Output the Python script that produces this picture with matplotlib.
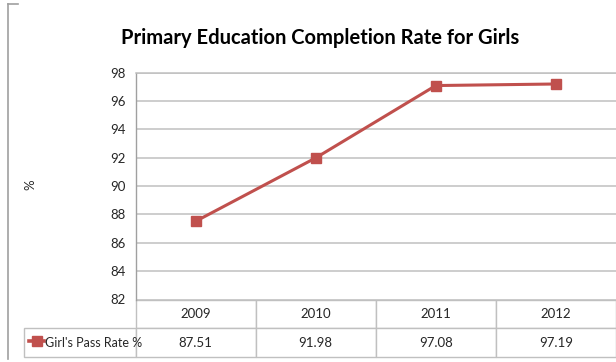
import matplotlib
matplotlib.use("Agg")
import matplotlib.pyplot as plt
from matplotlib.lines import Line2D
from matplotlib.table import Table

# chart data
years = ["2009", "2010", "2011", "2012"]
pass_rate = [87.51, 91.98, 97.08, 97.19]
series_name = "Girl's Pass Rate %"
y_ticks = [82, 84, 86, 88, 90, 92, 94, 96, 98]

plt.rcParams['font.family'] = ['Lato', 'DejaVu Sans']

RED = '#C0504D'
GRID = '#C0C0C0'
TEXT = '#262626'

fig = plt.figure(figsize=(6.16, 3.62), dpi=100)
W, H = 616, 362
ax = fig.add_axes([135.5 / W, 1 - 299.5 / H, 480.5 / W, 227 / H])

x = list(range(len(years)))
ax.plot(x, pass_rate, color=RED, lw=2.2, marker='s', markersize=6.5,
        markeredgecolor=RED, markerfacecolor=RED, zorder=3)

ax.set_xlim(-0.5, len(years) - 0.5)
ax.set_ylim(y_ticks[0], y_ticks[-1])
ax.set_yticks(y_ticks)
ax.set_yticklabels([str(t) for t in y_ticks], fontsize=9.5, color=TEXT)
ax.tick_params(axis='y', length=0, pad=7)
ax.set_xticks([])
ax.yaxis.grid(True, color=GRID, lw=1.1)
ax.set_axisbelow(True)

for side in ['right', 'bottom']:
    ax.spines[side].set_visible(False)
ax.spines['top'].set_color(GRID)
ax.spines['top'].set_linewidth(1.1)
ax.spines['left'].set_color('#A0A0A0')
ax.spines['left'].set_linewidth(1.0)

fig.text(30 / W, 1 - 185 / H, '%', rotation=90, ha='center', va='center',
         fontsize=9.5, color=TEXT)

fig.text(320 / W, 1 - 43.5 / H, 'Primary Education Completion Rate for Girls',
         ha='center', va='baseline', fontsize=14.5, fontweight='bold',
         color='black')

# data table below the plot
row_w = 111.5 / 480.5
row_h = 28.75 / 227
col_w = 1.0 / len(years)
tbl = Table(ax, bbox=[0, -2 * row_h, 1, 2 * row_h])
tbl.auto_set_font_size(False)
for j, yr in enumerate(years):
    tbl.add_cell(0, j, width=col_w, height=row_h, text=yr, loc='center')
    tbl.add_cell(1, j, width=col_w, height=row_h, text="%.2f" % pass_rate[j],
                 loc='center')
tbl.add_cell(1, -1, width=row_w, height=row_h, text='')
for (r, c), cell in tbl.get_celld().items():
    cell.set_edgecolor(GRID)
    cell.set_linewidth(1.0)
    cell.get_text().set_fontsize(9.5)
    cell.get_text().set_color(TEXT)
ax.add_table(tbl)

# legend key inside the row label cell
key_y = -1.5 * row_h + 1.5 / 227
key_x0 = -row_w + 5 / 480.5
ax.add_line(Line2D([key_x0, key_x0 + 15 / 480.5], [key_y, key_y],
                   transform=ax.transAxes, color=RED, lw=2.6,
                   clip_on=False))
ax.add_line(Line2D([key_x0 + 7.5 / 480.5], [key_y], transform=ax.transAxes,
                   color=RED, marker='s', markersize=6.5, clip_on=False))
ax.text(key_x0 + 16 / 480.5, key_y - 1.5 / 227, series_name,
        transform=ax.transAxes, ha='left', va='center', fontsize=9,
        color=TEXT)

# chart frame edge
fig.add_artist(Line2D([8 / W, 8 / W], [1 - 4 / H, 1 - 359 / H],
                      transform=fig.transFigure, color='#A0A0A0', lw=1.2))
fig.add_artist(Line2D([8 / W, 18 / W], [1 - 4 / H, 1 - 4 / H],
                      transform=fig.transFigure, color='#A0A0A0', lw=1.2))

fig.savefig('out.png', dpi=100, facecolor='white')
